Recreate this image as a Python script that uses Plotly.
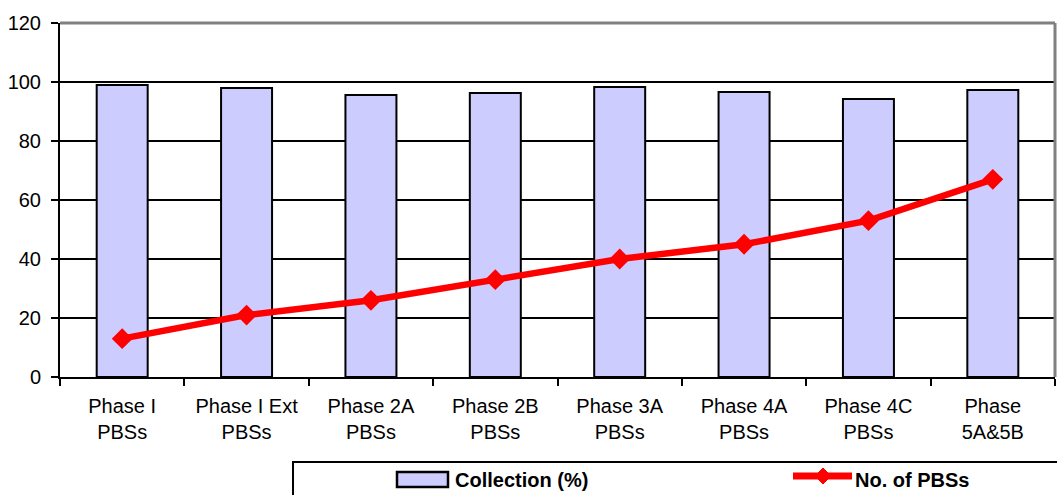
import plotly.graph_objects as go

categories = ["Phase I<br>PBSs", "Phase I Ext<br>PBSs", "Phase 2A<br>PBSs", "Phase 2B<br>PBSs",
              "Phase 3A<br>PBSs", "Phase 4A<br>PBSs", "Phase 4C<br>PBSs", "Phase<br>5A&5B"]
collection_pct = [99.0, 98.0, 95.6, 96.3, 98.3, 96.6, 94.2, 97.3]
num_pbss = [13, 21, 26, 33, 40, 45, 53, 67]

FONT = "Liberation Sans, Arial, sans-serif"
W, H = 1057, 495
ML, MR, MT, MB = 60, 2, 23, 118
PW, PH = W - ML - MR, H - MT - MB


def px(x):
    """pixel x -> paper x"""
    return (x - ML) / PW


def py(y):
    """pixel y -> paper y"""
    return (H - MB - y) / PH


fig = go.Figure()
fig.add_trace(go.Bar(
    x=categories, y=collection_pct, name="Collection (%)",
    marker=dict(color="#CCCCFF", line=dict(color="black", width=2)),
    width=0.41,
))
fig.add_trace(go.Scatter(
    x=categories, y=num_pbss, name="No. of PBSs", mode="lines+markers",
    line=dict(color="#FF0000", width=6.5),
    marker=dict(symbol="diamond", size=16, color="#FF0000"),
))

fig.update_layout(
    width=W, height=H,
    margin=dict(l=ML, r=MR, t=MT, b=MB, autoexpand=False),
    plot_bgcolor="white", paper_bgcolor="white",
    font=dict(family=FONT, size=20, color="black"),
    showlegend=False,
    xaxis=dict(
        tickson="boundaries", ticks="outside", ticklen=7, tickwidth=2, tickcolor="black",
        showline=True, linecolor="black", linewidth=2, showgrid=False,
        tickfont=dict(size=20), ticklabelstandoff=10, automargin=False,
    ),
    yaxis=dict(
        range=[0, 120], dtick=20, ticks="outside", ticklen=7, tickwidth=2, tickcolor="black",
        showline=True, linecolor="black", linewidth=2,
        showgrid=True, gridcolor="black", gridwidth=2, zeroline=False,
        tickfont=dict(size=20), ticklabelstandoff=6, automargin=False,
    ),
)

shapes = [
    # grey frame on top and right of the plot area
    dict(type="line", xref="paper", yref="paper", x0=0, x1=1, y0=1, y1=1,
         line=dict(color="#808080", width=3)),
    dict(type="line", xref="paper", yref="paper", x0=1, x1=1, y0=0, y1=1,
         line=dict(color="#808080", width=3)),
    # legend box
    dict(type="rect", xref="paper", yref="paper", x0=px(293), x1=px(1062),
         y0=py(462), y1=py(505), line=dict(color="black", width=2), fillcolor="white"),
    # legend swatch: bars
    dict(type="rect", xref="paper", yref="paper", x0=px(397), x1=px(448),
         y0=py(472), y1=py(487), line=dict(color="black", width=2.5), fillcolor="#CCCCFF"),
    # legend swatch: line with diamond
    dict(type="line", xref="paper", yref="paper", x0=px(793), x1=px(852),
         y0=py(476), y1=py(476), line=dict(color="#FF0000", width=7)),
    dict(type="path", xref="paper", yref="paper",
         path=(f"M {px(815)} {py(476)} L {px(823)} {py(468)} "
               f"L {px(831)} {py(476)} L {px(823)} {py(484)} Z"),
         line=dict(color="#FF0000", width=1), fillcolor="#FF0000"),
]
fig.update_layout(shapes=shapes)

for label, x0 in [("Collection (%)", 453), ("No. of PBSs", 853)]:
    fig.add_annotation(
        text=f"<b>{label}</b>", xref="paper", yref="paper",
        x=px(x0), y=py(480), xanchor="left", yanchor="middle", showarrow=False,
        font=dict(size=20, family=FONT, color="black"),
    )

fig.write_html("out.html")
